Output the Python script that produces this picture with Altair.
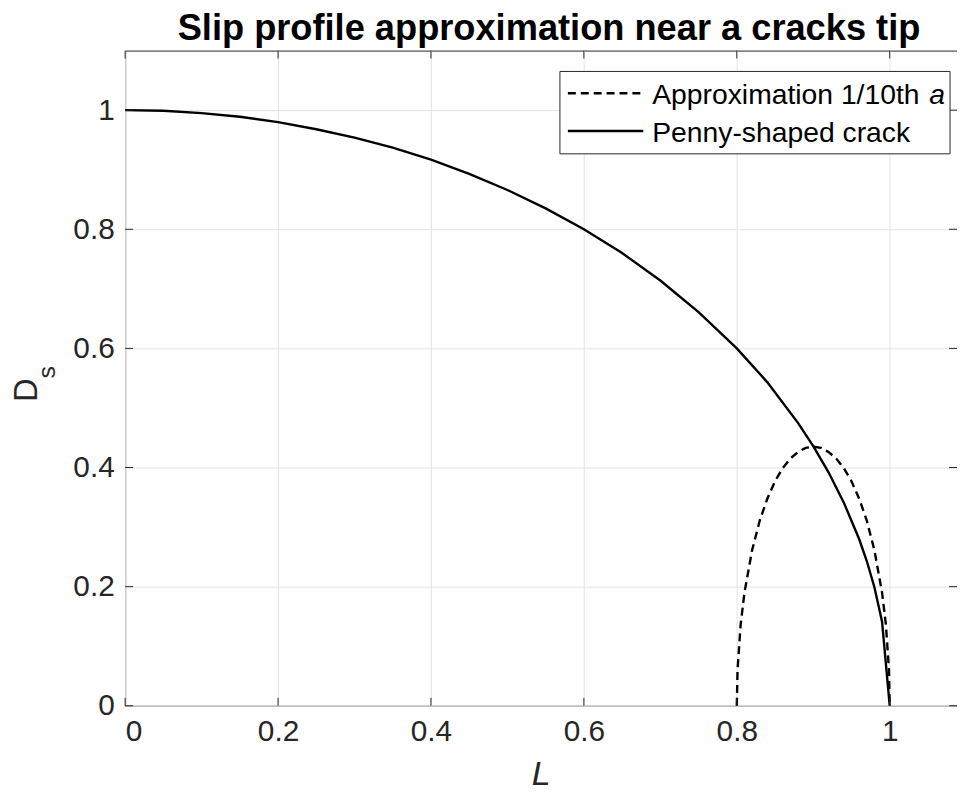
import altair as alt
import pandas as pd

# Penny-shaped crack slip profile
solid_L = [0.0, 0.05, 0.1, 0.15, 0.2, 0.25, 0.3, 0.35, 0.4, 0.45, 0.5, 0.55, 0.6, 0.65,
           0.7, 0.75, 0.8, 0.84, 0.88, 0.9, 0.92, 0.94, 0.96, 0.97, 0.98, 0.99, 1.0]
solid_D = [1.0, 0.999, 0.995, 0.989, 0.980, 0.968, 0.954, 0.937, 0.917, 0.893, 0.866, 0.835,
           0.800, 0.760, 0.714, 0.661, 0.600, 0.543, 0.475, 0.436, 0.392, 0.341, 0.280, 0.243,
           0.199, 0.141, 0.0]

# Approximation 1/10th a
dash_L = [0.8, 0.801, 0.805, 0.81, 0.82, 0.83, 0.84, 0.85, 0.86, 0.87, 0.88, 0.89, 0.9,
          0.91, 0.92, 0.93, 0.94, 0.95, 0.96, 0.97, 0.98, 0.99, 0.995, 0.999, 1.0]
dash_D = [0.0, 0.061, 0.136, 0.190, 0.261, 0.311, 0.348, 0.377, 0.399, 0.415, 0.426, 0.433,
          0.435, 0.433, 0.426, 0.415, 0.399, 0.377, 0.348, 0.311, 0.261, 0.190, 0.136, 0.061, 0.0]

x_ticks = [0, 0.2, 0.4, 0.6, 0.8, 1.0]
y_ticks = [0, 0.2, 0.4, 0.6, 0.8, 1.0]

title_text = "Slip profile approximation near a cracks tip"
legend_labels = ["Approximation 1/10th", "Penny-shaped crack"]

W, H = 838, 660
FONT = "Liberation Sans"
AX = "#262626"

df_s = pd.DataFrame({"L": solid_L, "D": solid_D})
df_d = pd.DataFrame({"L": dash_L, "D": dash_D})
df_xt = pd.DataFrame({"L": x_ticks})
df_yt = pd.DataFrame({"D": y_ticks})
dummy = pd.DataFrame({"k": [0]})

x_scale = alt.Scale(domain=[0, 1.088], nice=False, zero=False)
y_scale = alt.Scale(domain=[0, 1.1], nice=False, zero=False)

x_axis = alt.Axis(values=x_ticks, format="~g", title=None,
                  labelPadding=11, ticks=False, domain=False, grid=True)
y_axis = alt.Axis(values=y_ticks, format="~g", title=None, labelPadding=11,
                  ticks=False, domain=False, grid=True)

X = alt.X("L:Q", scale=x_scale, axis=x_axis)
Y = alt.Y("D:Q", scale=y_scale, axis=y_axis)

solid = alt.Chart(df_s).mark_line(color="black", strokeWidth=2.4).encode(x=X, y=Y)
dashed = alt.Chart(df_d).mark_line(color="black", strokeWidth=2.4, strokeDash=[8, 5]).encode(x=X, y=Y)

tk = 8
t_bottom = alt.Chart(df_xt).mark_rule(color=AX, strokeWidth=1).encode(
    x=X, y=alt.value(H), y2=alt.value(H - tk))
t_top = alt.Chart(df_xt).mark_rule(color=AX, strokeWidth=1).encode(
    x=X, y=alt.value(0), y2=alt.value(tk))
t_left = alt.Chart(df_yt).mark_rule(color=AX, strokeWidth=1).encode(
    y=Y, x=alt.value(0), x2=alt.value(tk))
t_right = alt.Chart(df_yt).mark_rule(color=AX, strokeWidth=1).encode(
    y=Y, x=alt.value(W), x2=alt.value(W - tk))

# legend
LFS = 28.5
lb = alt.Chart(dummy).mark_rect(fill="white", stroke=AX, strokeWidth=1).encode(
    x=alt.value(438), x2=alt.value(831), y=alt.value(21), y2=alt.value(104))
l1 = alt.Chart(dummy).mark_rule(color="black", strokeWidth=2.4, strokeDash=[8, 5]).encode(
    x=alt.value(446), x2=alt.value(522), y=alt.value(43))
l2 = alt.Chart(dummy).mark_rule(color="black", strokeWidth=2.4).encode(
    x=alt.value(446), x2=alt.value(522), y=alt.value(81))
t1 = alt.Chart(dummy).mark_text(align="left", baseline="middle", fontSize=LFS, font=FONT,
                                color="black").encode(
    x=alt.value(531), y=alt.value(45), text=alt.value(legend_labels[0]))
t1a = alt.Chart(dummy).mark_text(align="left", baseline="middle", fontSize=LFS, font=FONT,
                                 fontStyle="italic", color="black").encode(
    x=alt.value(810), y=alt.value(45), text=alt.value("a"))
t2 = alt.Chart(dummy).mark_text(align="left", baseline="middle", fontSize=LFS, font=FONT,
                                color="black").encode(
    x=alt.value(531), y=alt.value(83), text=alt.value(legend_labels[1]))

# axis titles
yD = alt.Chart(dummy).mark_text(angle=270, align="center", baseline="alphabetic",
                                fontSize=33, font=FONT, color=AX).encode(
    x=alt.value(-89), y=alt.value(342), text=alt.value("D"))
ys = alt.Chart(dummy).mark_text(angle=270, align="center", baseline="alphabetic",
                                fontSize=25, font=FONT, color=AX).encode(
    x=alt.value(-71), y=alt.value(324), text=alt.value("s"))
xL = alt.Chart(dummy).mark_text(align="center", baseline="alphabetic", fontSize=34,
                                font=FONT, fontStyle="italic", color=AX).encode(
    x=alt.value(W / 2), y=alt.value(H + 80), text=alt.value("L"))

chart = alt.layer(
    solid, dashed, t_bottom, t_top, t_left, t_right, lb, l1, l2, t1, t1a, t2, yD, ys, xL
).properties(
    width=W, height=H,
    title=alt.TitleParams(title_text, fontSize=36.5, fontWeight="bold", font=FONT,
                          anchor="middle", offset=3, dx=8, color="black"),
    padding={"left": 118, "top": 40, "right": 0, "bottom": 88},
    autosize="none",
).configure_view(
    stroke=AX, strokeWidth=1
).configure_axis(
    labelFont=FONT, labelFontSize=30, labelColor=AX,
    gridColor="#e3e3e3", gridWidth=1,
)

chart.save("out.html", embed_options={"renderer": "svg", "actions": False})
